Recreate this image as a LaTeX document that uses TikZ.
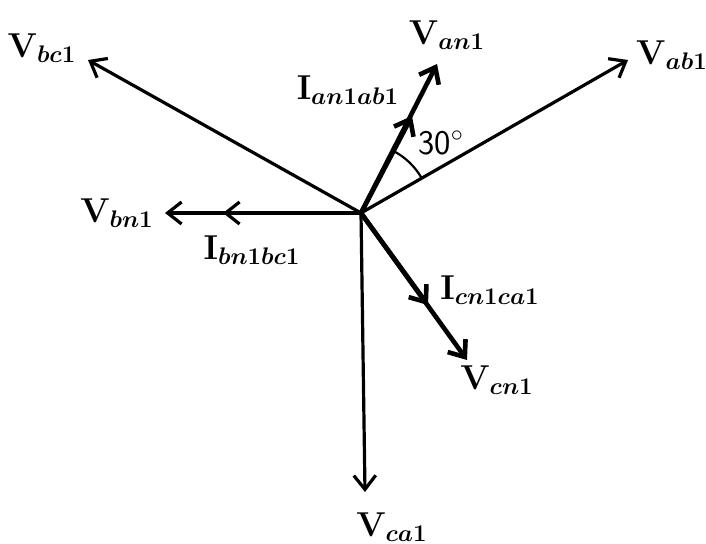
\documentclass[tikz,border=0pt]{standalone}
\usepackage{amsmath}
\usepackage{amssymb}
\usetikzlibrary{arrows.meta, angles}

\begin{document}
\begin{tikzpicture}[x=0.5pt, y=-0.5pt, >={Straight Barb[length=7pt, width=11pt]}, font=\LARGE,
	vec/.style={->, line width=1.6pt},
	heavy/.style={->, line width=2.3pt}]
				\useasboundingbox (0, 0) rectangle (706, 544);
				\coordinate (o) at (361, 213);
				\coordinate (van) at (437, 64);
				\coordinate (ian) at (412, 116);
				\coordinate (vab) at (628, 60);
				\coordinate (vbc) at (88, 60);
				\coordinate (vbn) at (165, 213);
				\coordinate (ibn) at (223, 213);
				\coordinate (vcn) at (467, 360);
				\coordinate (icn) at (428, 305);
				\coordinate (vca) at (365, 492);
				
				\draw[heavy] (o) -- (van);
				\draw[heavy] (o) -- (ian);
				\draw[vec] (o) -- (vab);
				\draw[vec] (o) -- (vbc);
				\draw[vec] (o) -- (vbn);
				\draw[vec] (o) -- (ibn);
				\draw[heavy] (o) -- (vcn);
				\draw[heavy] (o) -- (icn);
				\draw[vec] (o) -- (vca);
				\pic[draw, line width=1.1pt, angle radius=35pt] {angle=vab--o--van};
				
				\node (lvan) at (447, 35) {$\mathbf{V}_{\boldsymbol{an}\mathbf{1}}$};
				\node (lian) at (348, 90) {$\mathbf{I}_{\boldsymbol{an}\mathbf{1}\boldsymbol{ab}\mathbf{1}}$};
				\node (lvab) at (672, 55) {$\mathbf{V}_{\boldsymbol{ab}\mathbf{1}}$};
				\node (lvbc) at (42, 48) {$\mathbf{V}_{\boldsymbol{bc}\mathbf{1}}$};
				\node (lvbn) at (117, 213) {$\mathbf{V}_{\boldsymbol{bn}\mathbf{1}}$};
				\node (libn) at (252, 250) {$\mathbf{I}_{\boldsymbol{bn}\mathbf{1}\boldsymbol{bc}\mathbf{1}}$};
				\node (licn) at (490, 290) {$\mathbf{I}_{\boldsymbol{cn}\mathbf{1}\boldsymbol{ca}\mathbf{1}}$};
				\node (lvcn) at (497, 380) {$\mathbf{V}_{\boldsymbol{cn}\mathbf{1}}$};
				\node (lvca) at (392, 527) {$\mathbf{V}_{\boldsymbol{ca}\mathbf{1}}$};
				\node[font=\LARGE\sffamily] (ang) at (441, 143) {30$^\circ$};
			\end{tikzpicture}
\end{document}
